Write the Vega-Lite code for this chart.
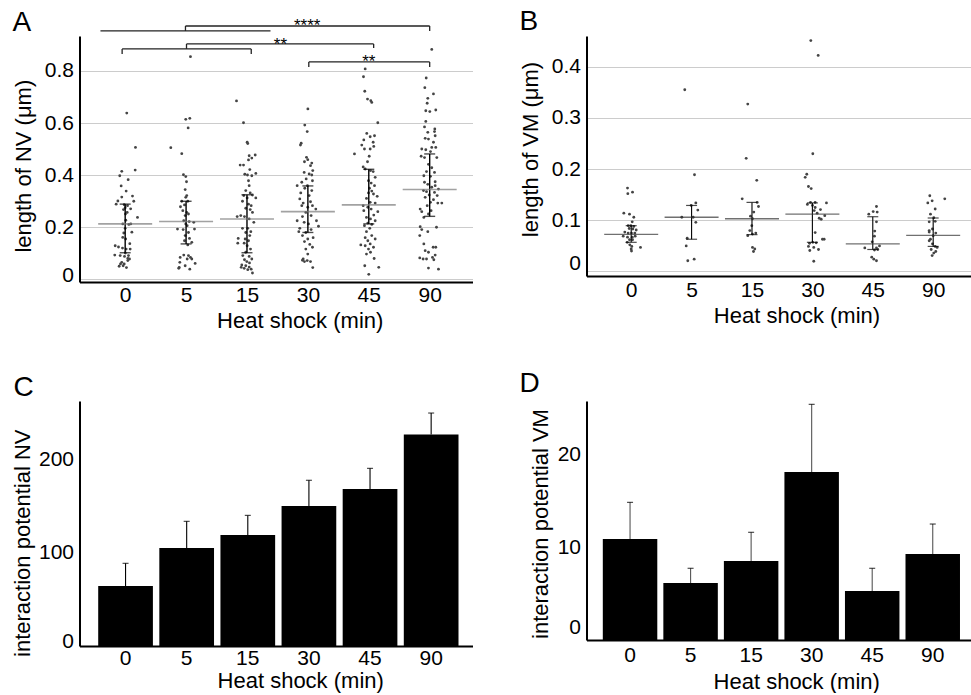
{
"$schema":"https://vega.github.io/schema/vega-lite/v6.json",
"padding":{"left":11.5,"top":8,"right":0,"bottom":0},
"config":{"font":"Liberation Sans","view":{"stroke":null},
"axis":{"labelFont":"Liberation Sans","titleFont":"Liberation Sans","labelFontSize":21,"titleFontSize":22,"titleFontWeight":"normal","labelColor":"black","titleColor":"black","domainColor":"black","domainWidth":2,"ticks":false,"tickSize":0,"gridColor":"#cccccc","gridWidth":1.2,"labelOverlap":false,"labelBound":false},
"title":{"font":"Liberation Sans","fontSize":28,"fontWeight":"normal","color":"black","anchor":"start","frame":"group","baseline":"alphabetic"}},
"datasets":{
"nv":[
{"t":0,"pos":0.026,"len":0.638},{"t":0,"pos":0.169,"len":0.506},{"t":0,"pos":0.164,"len":0.419},{"t":0,"pos":-0.056,"len":0.414},{"t":0,"pos":-0.089,"len":0.397},{"t":0,"pos":0.049,"len":0.382},{"t":0,"pos":-0.066,"len":0.358},{"t":0,"pos":0.016,"len":0.338},{"t":0,"pos":0.12,"len":0.319},{"t":0,"pos":-0.056,"len":0.315},{"t":0,"pos":0.141,"len":0.299},{"t":0,"pos":-0.148,"len":0.288},{"t":0,"pos":-0.016,"len":0.286},{"t":0,"pos":0.038,"len":0.282},{"t":0,"pos":0.0,"len":0.274},{"t":0,"pos":-0.028,"len":0.267},{"t":0,"pos":0.033,"len":0.256},{"t":0,"pos":0.005,"len":0.25},{"t":0,"pos":0.202,"len":0.237},{"t":0,"pos":0.01,"len":0.226},{"t":0,"pos":-0.039,"len":0.212},{"t":0,"pos":0.092,"len":0.212},{"t":0,"pos":0.0,"len":0.195},{"t":0,"pos":-0.023,"len":0.177},{"t":0,"pos":0.008,"len":0.154},{"t":0,"pos":0.076,"len":0.136},{"t":0,"pos":-0.164,"len":0.128},{"t":0,"pos":-0.11,"len":0.123},{"t":0,"pos":-0.044,"len":0.119},{"t":0,"pos":0.016,"len":0.115},{"t":0,"pos":0.082,"len":0.115},{"t":0,"pos":0.002,"len":0.1},{"t":0,"pos":0.054,"len":0.09},{"t":0,"pos":-0.171,"len":0.092},{"t":0,"pos":-0.082,"len":0.09},{"t":0,"pos":-0.011,"len":0.087},{"t":0,"pos":0.071,"len":0.077},{"t":0,"pos":-0.056,"len":0.064},{"t":0,"pos":0.043,"len":0.071},{"t":0,"pos":-0.077,"len":0.058},{"t":0,"pos":-0.016,"len":0.058},{"t":0,"pos":-0.099,"len":0.049},{"t":0,"pos":0.021,"len":0.044},{"t":0,"pos":-0.033,"len":0.051},{"t":0,"pos":0.043,"len":0.079},{"t":0,"pos":-0.12,"len":0.3},{"t":0,"pos":0.09,"len":0.27},{"t":0,"pos":-0.04,"len":0.16},{"t":0,"pos":0.11,"len":0.18},{"t":0,"pos":0.06,"len":0.21},
{"t":5,"pos":1.072,"len":0.855},{"t":5,"pos":0.995,"len":0.614},{"t":5,"pos":1.061,"len":0.618},{"t":5,"pos":1.034,"len":0.581},{"t":5,"pos":0.749,"len":0.505},{"t":5,"pos":0.929,"len":0.482},{"t":5,"pos":0.957,"len":0.401},{"t":5,"pos":0.995,"len":0.394},{"t":5,"pos":1.007,"len":0.374},{"t":5,"pos":0.985,"len":0.344},{"t":5,"pos":1.011,"len":0.321},{"t":5,"pos":0.995,"len":0.314},{"t":5,"pos":0.929,"len":0.299},{"t":5,"pos":1.028,"len":0.299},{"t":5,"pos":0.908,"len":0.278},{"t":5,"pos":0.974,"len":0.285},{"t":5,"pos":0.946,"len":0.263},{"t":5,"pos":1.011,"len":0.256},{"t":5,"pos":0.985,"len":0.244},{"t":5,"pos":1.039,"len":0.25},{"t":5,"pos":0.962,"len":0.224},{"t":5,"pos":1.051,"len":0.221},{"t":5,"pos":1.126,"len":0.218},{"t":5,"pos":0.995,"len":0.212},{"t":5,"pos":1.018,"len":0.205},{"t":5,"pos":0.859,"len":0.192},{"t":5,"pos":0.952,"len":0.19},{"t":5,"pos":1.138,"len":0.192},{"t":5,"pos":1.039,"len":0.179},{"t":5,"pos":0.985,"len":0.167},{"t":5,"pos":1.056,"len":0.156},{"t":5,"pos":0.974,"len":0.147},{"t":5,"pos":1.094,"len":0.141},{"t":5,"pos":1.028,"len":0.131},{"t":5,"pos":0.962,"len":0.092},{"t":5,"pos":1.039,"len":0.09},{"t":5,"pos":1.072,"len":0.083},{"t":5,"pos":1.018,"len":0.077},{"t":5,"pos":1.094,"len":0.077},{"t":5,"pos":0.903,"len":0.083},{"t":5,"pos":1.149,"len":0.06},{"t":5,"pos":0.897,"len":0.064},{"t":5,"pos":0.985,"len":0.051},{"t":5,"pos":0.887,"len":0.045},{"t":5,"pos":1.061,"len":0.038},{"t":5,"pos":0.88,"len":0.041},
{"t":15,"pos":1.828,"len":0.685},{"t":15,"pos":1.943,"len":0.601},{"t":15,"pos":2.003,"len":0.526},{"t":15,"pos":2.013,"len":0.521},{"t":15,"pos":2.036,"len":0.474},{"t":15,"pos":2.079,"len":0.465},{"t":15,"pos":2.135,"len":0.477},{"t":15,"pos":2.025,"len":0.458},{"t":15,"pos":1.888,"len":0.438},{"t":15,"pos":1.943,"len":0.438},{"t":15,"pos":2.046,"len":0.421},{"t":15,"pos":1.964,"len":0.403},{"t":15,"pos":2.008,"len":0.4},{"t":15,"pos":2.079,"len":0.397},{"t":15,"pos":2.145,"len":0.406},{"t":15,"pos":2.025,"len":0.378},{"t":15,"pos":2.036,"len":0.359},{"t":15,"pos":1.98,"len":0.34},{"t":15,"pos":2.053,"len":0.331},{"t":15,"pos":1.947,"len":0.321},{"t":15,"pos":2.09,"len":0.323},{"t":15,"pos":2.003,"len":0.312},{"t":15,"pos":2.145,"len":0.312},{"t":15,"pos":1.926,"len":0.299},{"t":15,"pos":2.025,"len":0.288},{"t":15,"pos":2.069,"len":0.282},{"t":15,"pos":1.98,"len":0.272},{"t":15,"pos":2.053,"len":0.267},{"t":15,"pos":2.09,"len":0.256},{"t":15,"pos":1.898,"len":0.244},{"t":15,"pos":1.959,"len":0.24},{"t":15,"pos":1.839,"len":0.24},{"t":15,"pos":2.036,"len":0.231},{"t":15,"pos":2.112,"len":0.218},{"t":15,"pos":1.926,"len":0.195},{"t":15,"pos":2.013,"len":0.195},{"t":15,"pos":2.063,"len":0.182},{"t":15,"pos":1.98,"len":0.179},{"t":15,"pos":2.046,"len":0.167},{"t":15,"pos":1.856,"len":0.156},{"t":15,"pos":1.97,"len":0.154},{"t":15,"pos":2.025,"len":0.147},{"t":15,"pos":1.954,"len":0.138},{"t":15,"pos":1.849,"len":0.138},{"t":15,"pos":2.003,"len":0.128},{"t":15,"pos":2.058,"len":0.115},{"t":15,"pos":1.98,"len":0.103},{"t":15,"pos":1.931,"len":0.09},{"t":15,"pos":2.036,"len":0.087},{"t":15,"pos":2.079,"len":0.077},{"t":15,"pos":1.959,"len":0.074},{"t":15,"pos":1.997,"len":0.067},{"t":15,"pos":1.915,"len":0.054},{"t":15,"pos":1.98,"len":0.051},{"t":15,"pos":2.036,"len":0.046},{"t":15,"pos":1.954,"len":0.041},{"t":15,"pos":2.013,"len":0.036},{"t":15,"pos":2.09,"len":0.023},{"t":15,"pos":2.069,"len":0.038},{"t":15,"pos":1.905,"len":0.045},{"t":15,"pos":2.041,"len":0.062},
{"t":30,"pos":3.0,"len":0.654},{"t":30,"pos":2.949,"len":0.592},{"t":30,"pos":2.989,"len":0.567},{"t":30,"pos":2.89,"len":0.522},{"t":30,"pos":2.878,"len":0.515},{"t":30,"pos":2.977,"len":0.468},{"t":30,"pos":2.998,"len":0.459},{"t":30,"pos":2.944,"len":0.451},{"t":30,"pos":3.064,"len":0.446},{"t":30,"pos":3.043,"len":0.436},{"t":30,"pos":2.939,"len":0.41},{"t":30,"pos":3.021,"len":0.404},{"t":30,"pos":3.08,"len":0.417},{"t":30,"pos":3.064,"len":0.4},{"t":30,"pos":2.972,"len":0.385},{"t":30,"pos":3.075,"len":0.378},{"t":30,"pos":2.9,"len":0.372},{"t":30,"pos":2.993,"len":0.359},{"t":30,"pos":2.824,"len":0.359},{"t":30,"pos":2.949,"len":0.349},{"t":30,"pos":3.064,"len":0.34},{"t":30,"pos":2.883,"len":0.331},{"t":30,"pos":3.021,"len":0.321},{"t":30,"pos":2.867,"len":0.308},{"t":30,"pos":3.043,"len":0.297},{"t":30,"pos":2.923,"len":0.292},{"t":30,"pos":3.075,"len":0.282},{"t":30,"pos":2.998,"len":0.276},{"t":30,"pos":3.13,"len":0.269},{"t":30,"pos":2.966,"len":0.256},{"t":30,"pos":3.053,"len":0.244},{"t":30,"pos":2.911,"len":0.24},{"t":30,"pos":2.824,"len":0.224},{"t":30,"pos":3.141,"len":0.224},{"t":30,"pos":2.939,"len":0.218},{"t":30,"pos":3.01,"len":0.212},{"t":30,"pos":3.174,"len":0.203},{"t":30,"pos":2.867,"len":0.195},{"t":30,"pos":3.053,"len":0.19},{"t":30,"pos":2.966,"len":0.179},{"t":30,"pos":2.911,"len":0.167},{"t":30,"pos":3.086,"len":0.159},{"t":30,"pos":2.998,"len":0.154},{"t":30,"pos":2.944,"len":0.144},{"t":30,"pos":3.031,"len":0.133},{"t":30,"pos":3.075,"len":0.122},{"t":30,"pos":2.966,"len":0.115},{"t":30,"pos":2.998,"len":0.096},{"t":30,"pos":2.923,"len":0.077},{"t":30,"pos":2.944,"len":0.067},{"t":30,"pos":2.989,"len":0.071},{"t":30,"pos":3.043,"len":0.067},{"t":30,"pos":2.911,"len":0.072},{"t":30,"pos":3.08,"len":0.044},{"t":30,"pos":2.851,"len":0.182},{"t":30,"pos":2.9,"len":0.282},
{"t":45,"pos":3.941,"len":0.808},{"t":45,"pos":3.913,"len":0.778},{"t":45,"pos":3.934,"len":0.722},{"t":45,"pos":3.979,"len":0.692},{"t":45,"pos":4.049,"len":0.679},{"t":45,"pos":4.033,"len":0.686},{"t":45,"pos":4.148,"len":0.601},{"t":45,"pos":3.967,"len":0.56},{"t":45,"pos":4.023,"len":0.547},{"t":45,"pos":4.094,"len":0.551},{"t":45,"pos":3.918,"len":0.535},{"t":45,"pos":4.072,"len":0.526},{"t":45,"pos":3.885,"len":0.515},{"t":45,"pos":4.082,"len":0.51},{"t":45,"pos":3.929,"len":0.5},{"t":45,"pos":4.023,"len":0.5},{"t":45,"pos":3.765,"len":0.481},{"t":45,"pos":4.007,"len":0.472},{"t":45,"pos":3.979,"len":0.451},{"t":45,"pos":3.908,"len":0.431},{"t":45,"pos":3.941,"len":0.423},{"t":45,"pos":4.028,"len":0.417},{"t":45,"pos":4.072,"len":0.413},{"t":45,"pos":4.105,"len":0.391},{"t":45,"pos":3.995,"len":0.378},{"t":45,"pos":4.039,"len":0.369},{"t":45,"pos":4.094,"len":0.359},{"t":45,"pos":4.011,"len":0.349},{"t":45,"pos":4.049,"len":0.338},{"t":45,"pos":3.995,"len":0.331},{"t":45,"pos":4.077,"len":0.327},{"t":45,"pos":4.138,"len":0.318},{"t":45,"pos":3.962,"len":0.31},{"t":45,"pos":4.023,"len":0.295},{"t":45,"pos":4.105,"len":0.292},{"t":45,"pos":3.908,"len":0.282},{"t":45,"pos":3.984,"len":0.276},{"t":45,"pos":4.039,"len":0.269},{"t":45,"pos":4.148,"len":0.259},{"t":45,"pos":3.918,"len":0.263},{"t":45,"pos":4.082,"len":0.246},{"t":45,"pos":3.962,"len":0.237},{"t":45,"pos":4.028,"len":0.231},{"t":45,"pos":4.105,"len":0.224},{"t":45,"pos":3.984,"len":0.215},{"t":45,"pos":3.929,"len":0.205},{"t":45,"pos":4.049,"len":0.21},{"t":45,"pos":4.016,"len":0.195},{"t":45,"pos":3.962,"len":0.182},{"t":45,"pos":4.049,"len":0.167},{"t":45,"pos":4.105,"len":0.154},{"t":45,"pos":3.941,"len":0.159},{"t":45,"pos":3.984,"len":0.147},{"t":45,"pos":4.023,"len":0.135},{"t":45,"pos":3.869,"len":0.131},{"t":45,"pos":3.941,"len":0.128},{"t":45,"pos":4.077,"len":0.122},{"t":45,"pos":3.995,"len":0.115},{"t":45,"pos":4.028,"len":0.103},{"t":45,"pos":3.962,"len":0.096},{"t":45,"pos":4.088,"len":0.079},{"t":45,"pos":3.934,"len":0.051},{"t":45,"pos":4.164,"len":0.045},{"t":45,"pos":4.0,"len":0.018},
{"t":90,"pos":5.034,"len":0.883},{"t":90,"pos":4.943,"len":0.773},{"t":90,"pos":4.92,"len":0.736},{"t":90,"pos":5.062,"len":0.712},{"t":90,"pos":4.969,"len":0.695},{"t":90,"pos":4.959,"len":0.676},{"t":90,"pos":5.1,"len":0.65},{"t":90,"pos":4.936,"len":0.647},{"t":90,"pos":5.002,"len":0.644},{"t":90,"pos":4.936,"len":0.606},{"t":90,"pos":4.915,"len":0.585},{"t":90,"pos":5.084,"len":0.577},{"t":90,"pos":5.079,"len":0.567},{"t":90,"pos":4.969,"len":0.564},{"t":90,"pos":5.09,"len":0.551},{"t":90,"pos":4.926,"len":0.541},{"t":90,"pos":4.98,"len":0.538},{"t":90,"pos":5.062,"len":0.526},{"t":90,"pos":5.034,"len":0.506},{"t":90,"pos":5.1,"len":0.506},{"t":90,"pos":4.936,"len":0.497},{"t":90,"pos":4.87,"len":0.5},{"t":90,"pos":5.013,"len":0.49},{"t":90,"pos":4.86,"len":0.472},{"t":90,"pos":4.915,"len":0.467},{"t":90,"pos":5.117,"len":0.467},{"t":90,"pos":4.98,"len":0.441},{"t":90,"pos":5.034,"len":0.428},{"t":90,"pos":4.948,"len":0.413},{"t":90,"pos":5.079,"len":0.41},{"t":90,"pos":4.904,"len":0.397},{"t":90,"pos":5.013,"len":0.395},{"t":90,"pos":5.09,"len":0.374},{"t":90,"pos":4.915,"len":0.372},{"t":90,"pos":4.969,"len":0.364},{"t":90,"pos":5.034,"len":0.353},{"t":90,"pos":4.898,"len":0.34},{"t":90,"pos":4.948,"len":0.336},{"t":90,"pos":5.079,"len":0.333},{"t":90,"pos":4.992,"len":0.323},{"t":90,"pos":5.123,"len":0.321},{"t":90,"pos":4.926,"len":0.314},{"t":90,"pos":5.062,"len":0.305},{"t":90,"pos":5.013,"len":0.295},{"t":90,"pos":5.133,"len":0.292},{"t":90,"pos":5.199,"len":0.292},{"t":90,"pos":4.959,"len":0.282},{"t":90,"pos":4.844,"len":0.269},{"t":90,"pos":4.87,"len":0.259},{"t":90,"pos":5.023,"len":0.263},{"t":90,"pos":4.98,"len":0.25},{"t":90,"pos":4.904,"len":0.237},{"t":90,"pos":4.844,"len":0.201},{"t":90,"pos":5.112,"len":0.199},{"t":90,"pos":4.87,"len":0.19},{"t":90,"pos":4.969,"len":0.182},{"t":90,"pos":4.837,"len":0.167},{"t":90,"pos":4.904,"len":0.135},{"t":90,"pos":5.057,"len":0.122},{"t":90,"pos":5.1,"len":0.122},{"t":90,"pos":4.926,"len":0.109},{"t":90,"pos":4.98,"len":0.103},{"t":90,"pos":5.09,"len":0.092},{"t":90,"pos":5.046,"len":0.083},{"t":90,"pos":4.837,"len":0.081},{"t":90,"pos":4.892,"len":0.077},{"t":90,"pos":4.948,"len":0.077},{"t":90,"pos":5.068,"len":0.074},{"t":90,"pos":4.98,"len":0.042},{"t":90,"pos":5.144,"len":0.038},{"t":90,"pos":5.144,"len":0.346},{"t":90,"pos":5.09,"len":0.359}
],
"vm":[
{"t":0,"pos":-0.061,"len":0.163},{"t":0,"pos":-0.056,"len":0.152},{"t":0,"pos":0.022,"len":0.155},{"t":0,"pos":-0.122,"len":0.114},{"t":0,"pos":-0.028,"len":0.112},{"t":0,"pos":0.043,"len":0.106},{"t":0,"pos":0.017,"len":0.097},{"t":0,"pos":-0.05,"len":0.0895},{"t":0,"pos":-0.006,"len":0.0895},{"t":0,"pos":0.043,"len":0.088},{"t":0,"pos":-0.033,"len":0.084},{"t":0,"pos":0.027,"len":0.083},{"t":0,"pos":0.083,"len":0.081},{"t":0,"pos":-0.106,"len":0.077},{"t":0,"pos":-0.05,"len":0.075},{"t":0,"pos":0.005,"len":0.075},{"t":0,"pos":0.06,"len":0.075},{"t":0,"pos":-0.132,"len":0.069},{"t":0,"pos":-0.061,"len":0.067},{"t":0,"pos":0.017,"len":0.067},{"t":0,"pos":0.066,"len":0.069},{"t":0,"pos":-0.028,"len":0.062},{"t":0,"pos":0.022,"len":0.062},{"t":0,"pos":-0.066,"len":0.057},{"t":0,"pos":-0.023,"len":0.052},{"t":0,"pos":0.01,"len":0.049},{"t":0,"pos":0.154,"len":0.047},{"t":0,"pos":0.0,"len":0.044},{"t":0,"pos":0.005,"len":0.04},
{"t":5,"pos":0.887,"len":0.355},{"t":5,"pos":1.048,"len":0.189},{"t":5,"pos":1.07,"len":0.134},{"t":5,"pos":0.993,"len":0.129},{"t":5,"pos":1.103,"len":0.12},{"t":5,"pos":0.838,"len":0.106},{"t":5,"pos":1.026,"len":0.106},{"t":5,"pos":1.07,"len":0.096},{"t":5,"pos":0.927,"len":0.065},{"t":5,"pos":0.911,"len":0.05},{"t":5,"pos":0.937,"len":0.021},{"t":5,"pos":1.043,"len":0.024},
{"t":15,"pos":1.93,"len":0.327},{"t":15,"pos":1.904,"len":0.221},{"t":15,"pos":2.079,"len":0.178},{"t":15,"pos":1.838,"len":0.142},{"t":15,"pos":2.086,"len":0.135},{"t":15,"pos":2.108,"len":0.127},{"t":15,"pos":2.03,"len":0.116},{"t":15,"pos":1.975,"len":0.108},{"t":15,"pos":2.008,"len":0.103},{"t":15,"pos":1.997,"len":0.0895},{"t":15,"pos":1.964,"len":0.08},{"t":15,"pos":1.93,"len":0.07},{"t":15,"pos":2.008,"len":0.073},{"t":15,"pos":2.063,"len":0.075},{"t":15,"pos":2.008,"len":0.047},{"t":15,"pos":2.046,"len":0.044},{"t":15,"pos":2.025,"len":0.039},
{"t":30,"pos":2.974,"len":0.451},{"t":30,"pos":3.096,"len":0.422},{"t":30,"pos":3.007,"len":0.23},{"t":30,"pos":2.907,"len":0.19},{"t":30,"pos":2.881,"len":0.184},{"t":30,"pos":2.935,"len":0.166},{"t":30,"pos":2.98,"len":0.162},{"t":30,"pos":2.917,"len":0.131},{"t":30,"pos":2.969,"len":0.135},{"t":30,"pos":3.046,"len":0.135},{"t":30,"pos":3.233,"len":0.134},{"t":30,"pos":3.002,"len":0.129},{"t":30,"pos":3.046,"len":0.125},{"t":30,"pos":3.134,"len":0.121},{"t":30,"pos":3.03,"len":0.119},{"t":30,"pos":3.079,"len":0.114},{"t":30,"pos":3.205,"len":0.109},{"t":30,"pos":3.113,"len":0.104},{"t":30,"pos":3.146,"len":0.102},{"t":30,"pos":3.046,"len":0.076},{"t":30,"pos":3.167,"len":0.063},{"t":30,"pos":3.195,"len":0.063},{"t":30,"pos":2.952,"len":0.055},{"t":30,"pos":3.007,"len":0.057},{"t":30,"pos":3.063,"len":0.056},{"t":30,"pos":2.935,"len":0.049},{"t":30,"pos":3.023,"len":0.047},{"t":30,"pos":3.101,"len":0.043},{"t":30,"pos":2.957,"len":0.041},{"t":30,"pos":3.023,"len":0.02},
{"t":45,"pos":4.061,"len":0.127},{"t":45,"pos":3.934,"len":0.112},{"t":45,"pos":4.007,"len":0.117},{"t":45,"pos":4.073,"len":0.116},{"t":45,"pos":4.061,"len":0.097},{"t":45,"pos":4.033,"len":0.079},{"t":45,"pos":4.028,"len":0.069},{"t":45,"pos":3.99,"len":0.058},{"t":45,"pos":4.111,"len":0.05},{"t":45,"pos":3.868,"len":0.046},{"t":45,"pos":4.061,"len":0.046},{"t":45,"pos":4.028,"len":0.042},{"t":45,"pos":4.083,"len":0.043},{"t":45,"pos":3.983,"len":0.028},{"t":45,"pos":4.017,"len":0.024},{"t":45,"pos":4.061,"len":0.021},
{"t":90,"pos":4.944,"len":0.148},{"t":90,"pos":5.192,"len":0.142},{"t":90,"pos":4.911,"len":0.134},{"t":90,"pos":4.983,"len":0.138},{"t":90,"pos":5.033,"len":0.122},{"t":90,"pos":4.955,"len":0.112},{"t":90,"pos":5.01,"len":0.105},{"t":90,"pos":4.934,"len":0.097},{"t":90,"pos":5.033,"len":0.098},{"t":90,"pos":4.988,"len":0.083},{"t":90,"pos":4.934,"len":0.08},{"t":90,"pos":5.043,"len":0.075},{"t":90,"pos":4.934,"len":0.077},{"t":90,"pos":5.0,"len":0.07},{"t":90,"pos":4.955,"len":0.063},{"t":90,"pos":4.988,"len":0.054},{"t":90,"pos":5.033,"len":0.049},{"t":90,"pos":5.066,"len":0.047},{"t":90,"pos":4.967,"len":0.043},{"t":90,"pos":5.043,"len":0.039},{"t":90,"pos":5.01,"len":0.036},{"t":90,"pos":4.983,"len":0.031},{"t":90,"pos":4.934,"len":0.06}
],
"nvsum":[{"t":0,"i":0,"mean":0.212,"lo":0.101,"hi":0.288},{"t":5,"i":1,"mean":0.221,"lo":0.135,"hi":0.299},{"t":15,"i":2,"mean":0.231,"lo":0.101,"hi":0.324},{"t":30,"i":3,"mean":0.259,"lo":0.179,"hi":0.358},{"t":45,"i":4,"mean":0.285,"lo":0.212,"hi":0.422},{"t":90,"i":5,"mean":0.344,"lo":0.241,"hi":0.481}],
"vmsum":[{"t":0,"i":0,"mean":0.0726,"lo":0.057,"hi":0.0895},{"t":5,"i":1,"mean":0.106,"lo":0.063,"hi":0.129},{"t":15,"i":2,"mean":0.103,"lo":0.072,"hi":0.135},{"t":30,"i":3,"mean":0.112,"lo":0.057,"hi":0.134},{"t":45,"i":4,"mean":0.054,"lo":0.043,"hi":0.107},{"t":90,"i":5,"mean":0.0706,"lo":0.049,"hi":0.1045}],
"ipnv":[{"t":"0","val":64.3,"err":88.6},{"t":"5","val":105,"err":133.6},{"t":"15","val":119,"err":140},{"t":"30","val":150,"err":177.6},{"t":"45","val":168.3,"err":190.4},{"t":"90","val":226.8,"err":249.7}],
"ipvm":[{"t":"0","val":10.86,"err":14.8},{"t":"5","val":6.13,"err":7.71},{"t":"15","val":8.49,"err":11.58},{"t":"30","val":18.06,"err":25.34},{"t":"45","val":5.27,"err":7.71},{"t":"90","val":9.25,"err":12.47}],
"brk":[{"x1":-0.406,"x2":2.386,"y1":0.954,"y2":0.954},{"x1":0.99,"x2":0.99,"y1":0.954,"y2":0.973},{"x1":0.99,"x2":5.0,"y1":0.973,"y2":0.973},{"x1":5.0,"x2":5.0,"y1":0.973,"y2":0.954},{"x1":-0.05,"x2":2.07,"y1":0.885,"y2":0.885},{"x1":-0.05,"x2":-0.05,"y1":0.885,"y2":0.865},{"x1":2.07,"x2":2.07,"y1":0.885,"y2":0.865},{"x1":1.007,"x2":1.007,"y1":0.885,"y2":0.904},{"x1":1.007,"x2":4.08,"y1":0.904,"y2":0.904},{"x1":4.08,"x2":4.08,"y1":0.904,"y2":0.888},{"x1":3.015,"x2":5.0,"y1":0.835,"y2":0.835},{"x1":3.015,"x2":3.015,"y1":0.835,"y2":0.815},{"x1":5.0,"x2":5.0,"y1":0.835,"y2":0.815}],
"sig":[{"pos":2.989,"y":0.952,"label":"****"},{"pos":2.55,"y":0.882,"label":"**"},{"pos":4.0,"y":0.816,"label":"**"}]
},
"concat":[
{"width":393,"height":246,
"title":{"text":"A","dx":-67,"offset":-20},
"layer":[
{"data":{"name":"nv"},"mark":{"type":"circle","size":8,"color":"#444444","opacity":1},
"encoding":{"x":{"field":"pos","type":"quantitative","scale":{"domain":[-0.75,5.703],"nice":false,"zero":false},"axis":{"values":[0,1,2,3,4,5],"labelExpr":"['0','5','15','30','45','90'][datum.value]","title":"Heat shock (min)","grid":false,"labelPadding":2.75,"titleX":220.2,"titleY":45.4,"titleAlign":"center","titleBaseline":"alphabetic"}},
"y":{"field":"len","type":"quantitative","scale":{"domain":[-0.0115,0.9346],"nice":false,"zero":false},"axis":{"values":[0,0.2,0.4,0.6,0.8],"format":"~g","title":"length of NV (μm)","grid":true,"labelPadding":6,"labelFlush":5,"labelFlushOffset":6.6,"titleX":-56.5,"titleY":129.7,"titleBaseline":"middle","titleAlign":"center"}}}},
{"data":{"name":"nvsum"},"mark":{"type":"rule","color":"black","strokeWidth":1.4},"encoding":{"x":{"field":"i","type":"quantitative"},"y":{"field":"lo","type":"quantitative"},"y2":{"field":"hi"}}},
{"data":{"name":"nvsum"},"mark":{"type":"tick","orient":"horizontal","size":11,"thickness":1.4,"color":"black"},"encoding":{"x":{"field":"i","type":"quantitative"},"y":{"field":"lo","type":"quantitative"}}},
{"data":{"name":"nvsum"},"mark":{"type":"tick","orient":"horizontal","size":11,"thickness":1.4,"color":"black"},"encoding":{"x":{"field":"i","type":"quantitative"},"y":{"field":"hi","type":"quantitative"}}},
{"data":{"name":"nvsum"},"mark":{"type":"tick","orient":"horizontal","size":54,"thickness":1.6,"color":"#7a7a7a"},"encoding":{"x":{"field":"i","type":"quantitative"},"y":{"field":"mean","type":"quantitative"}}},
{"data":{"name":"brk"},"mark":{"type":"rule","color":"#222222","strokeWidth":1.3},"encoding":{"x":{"field":"x1","type":"quantitative"},"x2":{"field":"x2"},"y":{"field":"y1","type":"quantitative"},"y2":{"field":"y2"}}},
{"data":{"name":"sig"},"mark":{"type":"text","fontSize":17,"baseline":"alphabetic","align":"center","color":"black","font":"Liberation Sans"},"encoding":{"x":{"field":"pos","type":"quantitative"},"y":{"field":"y","type":"quantitative"},"text":{"field":"label"}}}
]},
{"width":384,"height":240,
"title":{"text":"B","dx":-67,"offset":0},
"layer":[
{"data":{"name":"vm"},"mark":{"type":"circle","size":8,"color":"#444444","opacity":1},
"encoding":{"x":{"field":"pos","type":"quantitative","scale":{"domain":[-0.74,5.618],"nice":false,"zero":false},"axis":{"values":[0,1,2,3,4,5],"labelExpr":"['0','5','15','30','45','90'][datum.value]","title":"Heat shock (min)","grid":false,"labelPadding":3.75,"titleX":210,"titleY":46.4,"titleAlign":"center","titleBaseline":"alphabetic"}},
"y":{"field":"len","type":"quantitative","scale":{"domain":[-0.0088,0.46],"nice":false,"zero":false},"axis":{"values":[0,0.1,0.2,0.3,0.4],"format":"~g","title":"length of VM (μm)","grid":true,"labelPadding":6,"labelFlush":6,"labelFlushOffset":1.9,"titleX":-56,"titleY":113,"titleBaseline":"middle","titleAlign":"center"}}}},
{"data":{"name":"vmsum"},"mark":{"type":"rule","color":"black","strokeWidth":1.1},"encoding":{"x":{"field":"i","type":"quantitative"},"y":{"field":"lo","type":"quantitative"},"y2":{"field":"hi"}}},
{"data":{"name":"vmsum"},"mark":{"type":"tick","orient":"horizontal","size":11,"thickness":1.2,"color":"black"},"encoding":{"x":{"field":"i","type":"quantitative"},"y":{"field":"lo","type":"quantitative"}}},
{"data":{"name":"vmsum"},"mark":{"type":"tick","orient":"horizontal","size":11,"thickness":1.2,"color":"black"},"encoding":{"x":{"field":"i","type":"quantitative"},"y":{"field":"hi","type":"quantitative"}}},
{"data":{"name":"vmsum"},"mark":{"type":"tick","orient":"horizontal","size":54,"thickness":1.3,"color":"#333333"},"encoding":{"x":{"field":"i","type":"quantitative"},"y":{"field":"mean","type":"quantitative"}}}
]},
{"width":393,"height":245,
"title":{"text":"C","dx":-66,"offset":-1},
"layer":[
{"data":{"name":"ipnv"},"mark":{"type":"bar","color":"black"},
"encoding":{"x":{"field":"t","type":"nominal","sort":["0","5","15","30","45","90"],"scale":{"paddingInner":0.105,"paddingOuter":0.2675,"align":0.572},"axis":{"labelAngle":0,"title":"Heat shock (min)","labelPadding":1.75,"titleX":220.7,"titleY":41.8,"titleAlign":"center","titleBaseline":"alphabetic"}},
"y":{"field":"val","type":"quantitative","scale":{"domain":[0,262.6],"nice":false},"axis":{"values":[0,100,200],"title":"interaction potential NV","grid":false,"labelPadding":6,"labelFlush":3,"labelFlushOffset":5.2,"titleX":-56.8,"titleY":141.7,"titleBaseline":"middle","titleAlign":"center"}}}},
{"data":{"name":"ipnv"},"mark":{"type":"rule","color":"black","strokeWidth":1.1},"encoding":{"x":{"field":"t","type":"nominal","sort":["0","5","15","30","45","90"]},"y":{"field":"val","type":"quantitative"},"y2":{"field":"err"}}},
{"data":{"name":"ipnv"},"mark":{"type":"tick","orient":"horizontal","size":6,"thickness":1.2,"color":"black"},"encoding":{"x":{"field":"t","type":"nominal","sort":["0","5","15","30","45","90"]},"y":{"field":"err","type":"quantitative"}}}
]},
{"width":384,"height":239,
"title":{"text":"D","dx":-67,"offset":3},
"layer":[
{"data":{"name":"ipvm"},"mark":{"type":"bar","color":"black"},
"encoding":{"x":{"field":"t","type":"nominal","sort":["0","5","15","30","45","90"],"scale":{"paddingInner":0.1,"paddingOuter":0.2215,"align":0.608},"axis":{"labelAngle":0,"title":"Heat shock (min)","labelPadding":4.4,"titleX":209.7,"titleY":48.4,"titleAlign":"center","titleBaseline":"alphabetic"}},
"y":{"field":"val","type":"quantitative","scale":{"domain":[0,25.7],"nice":false},"axis":{"values":[0,10,20],"title":"interaction potential VM","grid":false,"labelPadding":6,"labelFlush":3,"labelFlushOffset":-2.1,"titleX":-45.8,"titleY":122.5,"titleBaseline":"middle","titleAlign":"center"}}}},
{"data":{"name":"ipvm"},"mark":{"type":"rule","color":"#555555","strokeWidth":1.1},"encoding":{"x":{"field":"t","type":"nominal","sort":["0","5","15","30","45","90"]},"y":{"field":"val","type":"quantitative"},"y2":{"field":"err"}}},
{"data":{"name":"ipvm"},"mark":{"type":"tick","orient":"horizontal","size":6,"thickness":1.2,"color":"black"},"encoding":{"x":{"field":"t","type":"nominal","sort":["0","5","15","30","45","90"]},"y":{"field":"err","type":"quantitative"}}}
]}
],
"columns":2,
"bounds":"flush",
"spacing":{"row":119,"column":114}
}
